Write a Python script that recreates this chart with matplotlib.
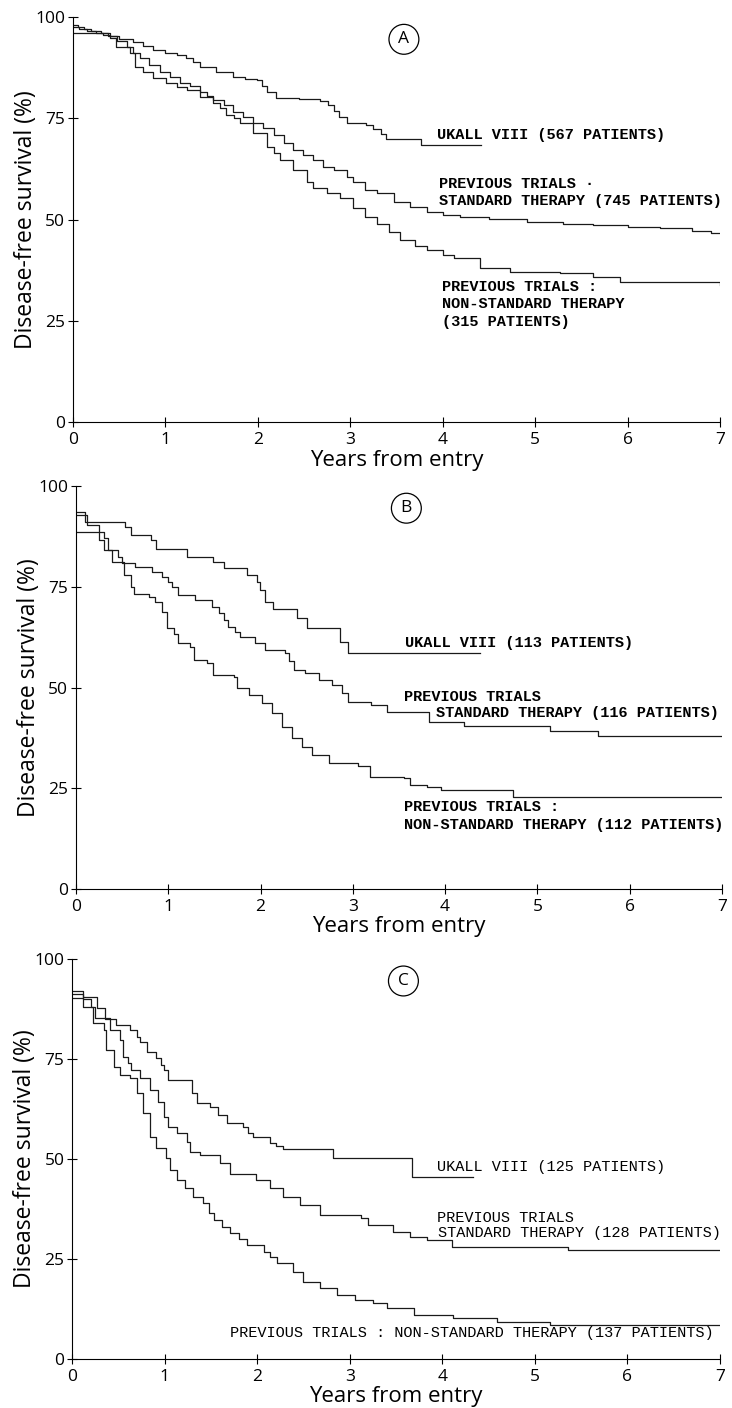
import matplotlib
matplotlib.use("Agg")
import matplotlib.pyplot as plt

# ---- panel A ----
A_uk_t = [0, 0.38, 0.50, 0.65, 0.76, 0.87, 1.00, 1.12, 1.22, 1.30, 1.37, 1.55, 1.73, 1.86, 1.99, 2.04,
          2.10, 2.20, 2.45, 2.67, 2.76, 2.82, 2.88, 2.96, 3.17, 3.25, 3.33, 3.39, 3.76, 4.41]
A_uk_s = [96.0, 95.3, 94.6, 93.9, 92.8, 91.9, 91.2, 90.6, 89.8, 89.0, 87.6, 86.4, 85.3, 84.8, 84.4, 83.0,
          81.6, 80.1, 79.8, 79.3, 78.2, 76.8, 75.4, 73.9, 73.4, 72.4, 71.0, 70.0, 68.4, 68.4]

A_std_t = [0, 0.05, 0.12, 0.20, 0.30, 0.40, 0.48, 0.58, 0.65, 0.72, 0.82, 0.94, 1.05, 1.16, 1.27, 1.37,
           1.45, 1.52, 1.63, 1.73, 1.84, 1.95, 2.06, 2.17, 2.28, 2.38, 2.49, 2.60, 2.71, 2.82, 2.96, 3.03,
           3.16, 3.29, 3.47, 3.65, 3.83, 4.00, 4.19, 4.50, 4.91, 5.30, 5.63, 6.00, 6.35, 6.70, 6.90, 7.00]
A_std_s = [98.0, 97.5, 97.0, 96.6, 96.0, 95.4, 94.0, 92.7, 91.2, 89.8, 88.2, 86.5, 85.3, 83.6, 83.0, 81.6,
           80.6, 79.5, 78.3, 76.6, 75.3, 73.8, 72.5, 70.9, 69.0, 67.2, 66.0, 64.7, 63.0, 62.2, 60.6, 59.3,
           57.3, 56.5, 54.4, 53.0, 51.9, 51.2, 50.7, 50.1, 49.5, 49.0, 48.6, 48.2, 47.8, 47.2, 46.7, 46.7]

A_non_t = [0, 0.06, 0.15, 0.25, 0.33, 0.40, 0.47, 0.62, 0.67, 0.76, 0.87, 1.01, 1.12, 1.23, 1.37, 1.52,
           1.59, 1.66, 1.74, 1.81, 1.95, 2.10, 2.17, 2.24, 2.38, 2.53, 2.60, 2.75, 2.89, 3.03, 3.16, 3.29,
           3.42, 3.54, 3.70, 3.83, 4.00, 4.12, 4.40, 4.73, 5.27, 5.63, 5.92, 7.00]
A_non_s = [97.5, 97.0, 96.5, 96.0, 95.5, 94.8, 92.7, 91.0, 87.7, 86.4, 84.9, 83.6, 82.8, 82.0, 80.3, 78.7,
           77.5, 75.8, 75.0, 73.8, 71.3, 68.0, 66.5, 64.7, 62.2, 59.3, 57.7, 56.5, 55.2, 52.8, 50.7, 49.0,
           46.8, 44.9, 43.5, 42.5, 41.2, 40.4, 38.0, 37.1, 36.7, 35.9, 34.6, 33.8]

# ---- panel B ----
B_uk_t = [0, 0.10, 0.53, 0.60, 0.81, 0.87, 1.20, 1.49, 1.60, 1.85, 1.96, 1.99, 2.05, 2.14, 2.39, 2.50,
          2.86, 2.95, 4.38]
B_uk_s = [93.6, 91.0, 89.9, 87.8, 86.6, 84.5, 82.5, 81.2, 79.6, 78.0, 76.3, 74.2, 71.3, 69.6, 67.2, 64.7,
          61.4, 58.5, 58.5]

B_std_t = [0, 0.12, 0.25, 0.30, 0.35, 0.46, 0.50, 0.64, 0.82, 0.93, 1.00, 1.04, 1.11, 1.29, 1.47, 1.55,
           1.60, 1.65, 1.72, 1.78, 1.94, 2.05, 2.27, 2.31, 2.36, 2.48, 2.63, 2.77, 2.88, 2.95, 3.20, 3.37,
           3.82, 4.20, 5.14, 5.66, 7.00]
B_std_s = [92.7, 90.3, 88.5, 87.0, 84.1, 82.5, 80.8, 80.0, 78.7, 77.5, 76.2, 75.0, 73.0, 71.7, 70.0, 68.4,
           66.8, 65.1, 63.8, 62.6, 61.0, 59.3, 58.5, 56.5, 54.3, 53.5, 51.9, 50.6, 48.6, 46.5, 45.7, 44.0,
           41.5, 40.4, 39.3, 38.0, 38.0]

B_non_t = [0, 0.25, 0.30, 0.39, 0.52, 0.60, 0.63, 0.79, 0.86, 0.93, 0.99, 1.06, 1.11, 1.24, 1.28, 1.42,
           1.49, 1.71, 1.74, 1.87, 2.02, 2.12, 2.23, 2.34, 2.45, 2.56, 2.74, 3.06, 3.19, 3.55, 3.62, 3.80,
           3.96, 4.74, 7.00]
B_non_s = [88.6, 86.5, 84.1, 81.2, 77.9, 75.0, 73.3, 72.5, 71.3, 68.8, 64.7, 63.4, 61.0, 60.1, 56.8, 56.0,
           53.1, 52.7, 49.8, 48.1, 46.1, 43.6, 40.3, 37.4, 35.3, 33.3, 31.2, 30.5, 27.9, 27.5, 25.8, 25.4,
           24.6, 22.9, 22.9]

# ---- panel C ----
C_uk_t = [0, 0.12, 0.27, 0.36, 0.48, 0.63, 0.70, 0.73, 0.81, 0.91, 0.96, 0.99, 1.04, 1.30, 1.35, 1.49,
          1.58, 1.67, 1.85, 1.90, 1.96, 2.14, 2.20, 2.28, 2.82, 3.67, 4.33]
C_uk_s = [92.1, 90.6, 87.7, 84.9, 83.5, 82.3, 80.5, 79.3, 76.8, 75.2, 73.5, 72.3, 69.8, 66.5, 63.9, 63.1,
          61.0, 58.9, 58.1, 56.5, 55.6, 54.1, 53.2, 52.4, 50.2, 45.6, 45.6]

C_std_t = [0, 0.12, 0.20, 0.25, 0.41, 0.52, 0.55, 0.60, 0.64, 0.73, 0.84, 0.93, 0.99, 1.04, 1.13, 1.24,
           1.27, 1.38, 1.60, 1.71, 1.99, 2.14, 2.28, 2.46, 2.68, 3.12, 3.20, 3.47, 3.65, 3.83, 4.10, 5.36,
           7.00]
C_std_s = [91.2, 90.0, 88.0, 85.2, 82.3, 79.8, 75.6, 74.0, 72.3, 70.2, 67.3, 64.3, 60.6, 58.1, 56.4, 54.3,
           51.8, 51.0, 48.9, 46.3, 44.8, 42.7, 40.6, 38.5, 36.0, 35.2, 33.5, 31.8, 30.6, 29.7, 27.9, 27.3,
           27.3]

C_non_t = [0, 0.12, 0.23, 0.34, 0.37, 0.45, 0.52, 0.63, 0.70, 0.77, 0.84, 0.91, 1.02, 1.06, 1.13, 1.22,
           1.31, 1.42, 1.48, 1.53, 1.62, 1.71, 1.80, 1.89, 2.07, 2.14, 2.21, 2.39, 2.50, 2.68, 2.86, 3.06,
           3.25, 3.40, 3.69, 4.12, 4.59, 5.16, 7.00]
C_non_s = [90.2, 88.1, 83.9, 82.3, 77.3, 73.1, 71.0, 70.2, 66.4, 61.4, 55.6, 52.7, 50.2, 47.3, 44.8, 42.7,
           40.6, 38.9, 36.5, 34.8, 33.0, 31.4, 30.0, 28.5, 26.8, 25.5, 23.9, 21.8, 19.3, 17.7, 16.0, 14.8,
           13.9, 12.7, 11.0, 10.2, 9.3, 8.5, 8.5]

panels = [
    dict(letter="A", rect=[0.0997, 0.7003, 0.884, 0.2876], weight="bold",
         curves=[(A_uk_t, A_uk_s), (A_std_t, A_std_s), (A_non_t, A_non_s)],
         labels=[(3.94, 70.9, "UKALL VIII (567 PATIENTS)"),
                 (3.96, 58.8, "PREVIOUS TRIALS \u00b7"),
                 (3.96, 54.6, "STANDARD THERAPY (745 PATIENTS)"),
                 (3.99, 33.3, "PREVIOUS TRIALS :"),
                 (3.99, 29.1, "NON-STANDARD THERAPY"),
                 (3.99, 24.7, "(315 PATIENTS)")]),
    dict(letter="B", rect=[0.1038, 0.3686, 0.8825, 0.2862], weight="bold",
         curves=[(B_uk_t, B_uk_s), (B_std_t, B_std_s), (B_non_t, B_non_s)],
         labels=[(3.56, 61.0, "UKALL VIII (113 PATIENTS)"),
                 (3.55, 47.7, "PREVIOUS TRIALS"),
                 (3.90, 43.8, "STANDARD THERAPY (116 PATIENTS)"),
                 (3.55, 20.4, "PREVIOUS TRIALS :"),
                 (3.55, 16.0, "NON-STANDARD THERAPY (112 PATIENTS)")]),
    dict(letter="C", rect=[0.0984, 0.0348, 0.8852, 0.2841], weight="normal",
         curves=[(C_uk_t, C_uk_s), (C_std_t, C_std_s), (C_non_t, C_non_s)],
         labels=[(3.94, 48.1, "UKALL VIII (125 PATIENTS)"),
                 (3.94, 35.2, "PREVIOUS TRIALS"),
                 (3.95, 31.4, "STANDARD THERAPY (128 PATIENTS)"),
                 (1.71, 6.4, "PREVIOUS TRIALS : NON-STANDARD THERAPY (137 PATIENTS)")]),
]

fig = plt.figure(figsize=(7.32, 14.08), dpi=100)
for p in panels:
    ax = fig.add_axes(p["rect"])
    for t, s in p["curves"]:
        ax.step(t, s, where="post", color="#1a1a1a", lw=0.9)
    ax.set_xlim(0, 7)
    ax.set_ylim(0, 100)
    ax.spines["top"].set_visible(False)
    ax.spines["right"].set_visible(False)
    ax.set_xticks(range(8))
    ax.set_yticks([0, 25, 50, 75, 100])
    ax.tick_params(direction="inout", length=7, width=0.8, labelsize=12.5, pad=2)
    ax.tick_params(axis="x", pad=4)
    for lab in ax.get_xticklabels() + ax.get_yticklabels():
        lab.set_family("Open Sans")
    ax.set_xlabel("Years from entry", fontsize=16, family="Open Sans")
    ax.set_ylabel("Disease-free survival (%)", fontsize=16.5, family="Open Sans")
    ax.xaxis.set_label_coords(0.5, -0.068)
    ax.yaxis.set_label_coords(-0.054, 0.5)
    for x, y, txt in p["labels"]:
        ax.text(x, y, txt, ha="left", va="center", fontsize=11,
                family="Liberation Mono", weight=p["weight"])
    ax.text(3.58, 94.5, p["letter"], ha="center", va="center", fontsize=12.5,
            family="Open Sans",
            bbox=dict(boxstyle="circle,pad=0.4", fc="white", ec="black", lw=0.9))

fig.savefig("out.png", dpi=100)
